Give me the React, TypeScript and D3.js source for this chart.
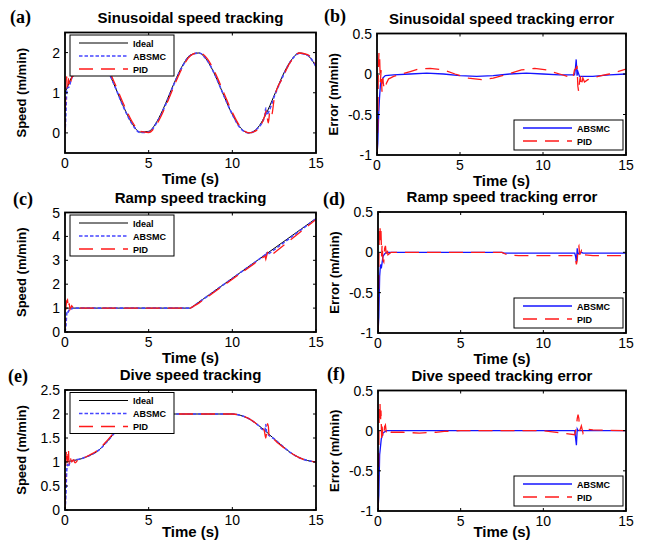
import * as d3 from "d3";

type Pt = [number, number];

// time axis ticks shared by all panels
const timeTicks = [0, 5, 10, 15];
const errorTicks = [-1, -0.5, 0, 0.5];

// (a) sinusoidal speed tracking
const sinIdeal: Pt[] = [
  [0, 1.0], [0.5, 1.48], [1, 1.84], [1.5, 2.0], [2, 1.91], [2.5, 1.6], [3, 1.14], [3.5, 0.65],
  [4, 0.24], [4.5, 0.02], [5, 0.04], [5.5, 0.29], [6, 0.72], [6.5, 1.22], [7, 1.66], [7.5, 1.94],
  [8, 1.99], [8.5, 1.8], [9, 1.41], [9.5, 0.92], [10, 0.46], [10.5, 0.12], [11, 0.0], [11.5, 0.12],
  [12, 0.46], [12.5, 0.93], [13, 1.42], [13.5, 1.8], [14, 1.99], [14.5, 1.93], [15, 1.65],
];
const sinAbsmc: Pt[] = [
  [0, 0], [0.05, 0.45], [0.1, 1.0], [0.15, 1.12], [0.25, 1.15], [0.35, 1.3], [0.5, 1.46], [1, 1.83],
  [1.5, 2.0], [2, 1.91], [2.5, 1.6], [3, 1.14], [3.5, 0.64], [4, 0.23], [4.5, 0.01], [5, 0.02],
  [5.5, 0.27], [6, 0.69], [6.5, 1.2], [7, 1.64], [7.5, 1.93], [8, 1.99], [8.5, 1.8], [9, 1.41],
  [9.5, 0.92], [10, 0.46], [10.5, 0.11], [11, 0.0], [11.5, 0.11], [11.95, 0.44], [12.0, 0.62],
  [12.05, 0.45], [12.2, 0.55], [12.5, 0.9], [13, 1.39], [13.5, 1.79], [14, 1.98], [14.5, 1.93], [15, 1.65],
];
const sinPid: Pt[] = [
  [0, 0], [0.05, 1.1], [0.1, 1.4], [0.15, 1.15], [0.2, 1.35], [0.3, 1.15], [0.4, 1.38], [0.5, 1.42],
  [1, 1.8], [1.5, 1.98], [2, 1.94], [2.5, 1.66], [3, 1.21], [3.5, 0.72], [4, 0.29], [4.5, 0.04],
  [5, 0.01], [5.5, 0.23], [6, 0.65], [6.5, 1.15], [7, 1.61], [7.5, 1.92], [8, 2.0], [8.5, 1.85],
  [9, 1.47], [9.5, 0.99], [10, 0.51], [10.5, 0.14], [11, 0.0], [11.5, 0.08], [11.9, 0.38],
  [12.0, 0.52], [12.05, 0.56], [12.1, 0.35], [12.15, 0.25], [12.25, 0.55], [12.35, 0.45],
  [12.5, 0.84], [13, 1.37], [13.5, 1.78], [14, 1.99], [14.5, 1.95], [15, 1.71],
];

// (b) sinusoidal tracking error
const sinErrAbsmc: Pt[] = [
  [0, -1], [0.05, -0.85], [0.1, -0.5], [0.15, -0.3], [0.2, -0.15], [0.25, -0.08], [0.3, -0.12],
  [0.35, -0.05], [0.5, -0.02], [1, -0.01], [2, 0.0], [3, 0.01], [4, 0.0], [5, -0.02], [6, -0.03],
  [7, -0.02], [8, 0.0], [9, 0.01], [10, 0.0], [11, -0.01], [11.9, -0.01], [11.95, 0.06], [12.0, 0.18],
  [12.05, -0.02], [12.1, 0.03], [12.2, -0.03], [13, -0.03], [14, -0.01], [15, 0.0],
];
const sinErrPid: Pt[] = [
  [0, -1], [0.05, -0.6], [0.08, 0.05], [0.12, 0.27], [0.16, 0.2], [0.2, -0.1], [0.25, 0.05],
  [0.3, -0.22], [0.35, -0.05], [0.4, -0.15], [0.45, -0.08], [0.55, -0.12], [0.7, -0.06], [0.8, -0.05],
  [1, -0.03], [1.5, 0.0], [2, 0.03], [2.5, 0.06], [3.2, 0.07], [4, 0.05], [4.7, 0.0], [5.5, -0.05],
  [6.3, -0.07], [7, -0.05], [7.9, 0.0], [8.7, 0.05], [9.5, 0.07], [10.2, 0.05], [11, 0.0],
  [11.8, -0.05], [11.9, 0.05], [12.0, 0.07], [12.05, 0.1], [12.1, -0.15], [12.15, -0.22], [12.2, -0.1],
  [12.25, -0.03], [12.3, -0.15], [12.4, -0.05], [12.5, -0.1], [12.7, -0.07], [13, -0.05],
  [13.5, -0.02], [14, 0.0], [14.5, 0.03], [15, 0.06],
];

// (c) ramp speed tracking
const rampIdeal: Pt[] = [[0, 1], [7.5, 1], [15, 4.75]];
const rampAbsmc: Pt[] = [
  [0, 0], [0.05, 0.2], [0.1, 0.75], [0.15, 0.9], [0.2, 0.85], [0.3, 1.0], [0.4, 0.97], [0.5, 1.0],
  [7.5, 1.0], [7.6, 1.04], [11.95, 3.22], [12.0, 3.14], [12.05, 3.3], [12.15, 3.26], [15, 4.74],
];
const rampPid: Pt[] = [
  [0, 0], [0.05, 1.0], [0.1, 1.3], [0.15, 1.35], [0.2, 1.0], [0.25, 1.2], [0.3, 0.95], [0.4, 1.1],
  [0.5, 1.0], [0.6, 1.05], [1, 1.0], [7.5, 1.0], [8, 1.21], [11.95, 3.18], [12.0, 3.05],
  [12.1, 3.32], [12.15, 3.28], [12.25, 3.17], [15, 4.71],
];

// (d) ramp tracking error
const rampErrAbsmc: Pt[] = [
  [0, -1], [0.05, -0.8], [0.1, -0.3], [0.15, -0.15], [0.2, -0.2], [0.3, -0.05], [0.4, -0.02],
  [0.5, 0], [7.5, 0], [7.6, -0.01], [11.9, -0.01], [11.95, -0.05], [12.0, -0.12], [12.05, 0.05],
  [12.1, -0.02], [12.3, 0.0], [12.4, -0.01], [15, -0.01],
];
const rampErrPid: Pt[] = [
  [0, -1], [0.05, -0.2], [0.08, 0.3], [0.12, 0.33], [0.15, 0.15], [0.18, 0.27], [0.22, -0.05],
  [0.25, 0.1], [0.3, -0.1], [0.35, -0.12], [0.4, 0.05], [0.45, 0.08], [0.5, -0.02], [0.55, 0.05],
  [0.6, -0.03], [0.8, 0.0], [7.5, 0], [7.8, -0.03], [8.5, -0.04], [11.9, -0.04], [12.0, -0.15],
  [12.05, -0.1], [12.1, 0.06], [12.15, 0.08], [12.2, -0.03], [12.3, 0.02], [12.4, -0.05],
  [12.5, -0.03], [13, -0.04], [15, -0.04],
];

// (e) dive speed tracking
const diveIdeal: Pt[] = [
  [0, 1], [0.5, 1.03], [1, 1.07], [1.5, 1.14], [2, 1.24], [2.5, 1.42], [3, 1.62], [3.5, 1.8],
  [4, 1.92], [4.5, 1.98], [5, 2], [10, 2], [10.5, 1.97], [11, 1.9], [11.5, 1.78], [12, 1.64],
  [12.5, 1.48], [13, 1.33], [13.5, 1.19], [14, 1.09], [14.5, 1.03], [15, 1.0],
];
const diveAbsmc: Pt[] = [
  [0, 0], [0.05, 0.3], [0.1, 0.8], [0.15, 0.95], [0.2, 0.9], [0.3, 1.0], [0.4, 1.02], [1, 1.07],
  [1.5, 1.14], [2, 1.24], [2.5, 1.42], [3, 1.62], [3.5, 1.8], [4, 1.92], [4.5, 1.98], [5, 2],
  [10, 2], [10.5, 1.97], [11, 1.9], [11.5, 1.78], [11.95, 1.65], [12.0, 1.78], [12.05, 1.62],
  [12.5, 1.48], [13, 1.33], [13.5, 1.19], [14, 1.09], [14.5, 1.03], [15, 1.0],
];
const divePid: Pt[] = [
  [0, 0], [0.05, 1.0], [0.1, 1.25], [0.15, 1.0], [0.2, 1.28], [0.25, 0.95], [0.3, 1.1], [0.4, 1.0],
  [0.5, 1.05], [0.6, 0.98], [0.8, 1.05], [1, 1.07], [1.5, 1.15], [2, 1.26], [2.5, 1.44], [3, 1.64],
  [3.5, 1.81], [4, 1.93], [4.5, 1.98], [5, 2], [10, 2], [10.5, 1.97], [11, 1.9], [11.5, 1.78],
  [11.9, 1.66], [12.0, 1.5], [12.05, 1.62], [12.1, 1.8], [12.15, 1.75], [12.2, 1.55], [12.3, 1.56],
  [12.5, 1.47], [13, 1.32], [13.5, 1.19], [14, 1.09], [14.5, 1.03], [15, 1.0],
];

// (f) dive tracking error
const diveErrAbsmc: Pt[] = [
  [0, -1], [0.05, -0.8], [0.1, -0.3], [0.15, -0.2], [0.2, -0.1], [0.3, -0.03], [0.5, 0],
  [11.9, 0], [12.0, -0.18], [12.05, 0.02], [12.1, 0], [15, 0],
];
const diveErrPid: Pt[] = [
  [0, -1], [0.05, -0.2], [0.08, 0.3], [0.12, 0.35], [0.15, 0.1], [0.18, 0.25], [0.22, -0.1],
  [0.25, 0.05], [0.3, -0.08], [0.35, -0.06], [0.4, 0.05], [0.45, 0.07], [0.5, -0.02], [0.6, 0.03],
  [0.8, -0.02], [1.5, -0.02], [2.5, -0.03], [3.5, -0.02], [4, -0.01], [5, 0.0], [10, 0.0],
  [11.9, -0.05], [12.0, 0.05], [12.05, 0.15], [12.1, 0.2], [12.15, 0.15], [12.2, 0.0], [12.3, 0.06],
  [12.4, -0.03], [12.5, 0.02], [13, 0.01], [15, 0.0],
];

const SANS = "'Liberation Sans', Arial, sans-serif";
const SERIF = "'Liberation Serif', 'Times New Roman', serif";

const styles: Record<string, { stroke: string; dash?: string; width: number }> = {
  ideal: { stroke: "#000", width: 1 },
  absmcDash: { stroke: "#4646ff", dash: "3.5,2", width: 1.6 },
  absmc: { stroke: "#1414ff", width: 1.3 },
  pid: { stroke: "#ff1a1a", dash: "14,8", width: 1.3 },
};

type Series = { key: string; label: string; data: Pt[] };
type Panel = {
  id: string; letter: string; title: string; ylabel: string;
  yDomain: [number, number]; yTicks: number[];
  box: { x0: number; x1: number; y0: number; y1: number };
  letterPos: [number, number]; xlabDy: number; smooth: boolean;
  series: Series[]; legend: "speed" | "error";
};

const panels: Panel[] = [
  {
    id: "a", letter: "(a)", title: "Sinusoidal speed tracking", ylabel: "Speed (m/min)",
    yDomain: [-0.5, 2.5], yTicks: [0, 1, 2], smooth: true, xlabDy: 31,
    box: { x0: 65, x1: 316, y0: 32.5, y1: 153 }, letterPos: [10, 23], legend: "speed",
    series: [
      { key: "ideal", label: "Ideal", data: sinIdeal },
      { key: "absmcDash", label: "ABSMC", data: sinAbsmc },
      { key: "pid", label: "PID", data: sinPid },
    ],
  },
  {
    id: "b", letter: "(b)", title: "Sinusoidal speed tracking error", ylabel: "Error (m/min)",
    yDomain: [-1, 0.5], yTicks: errorTicks, smooth: false, xlabDy: 31,
    box: { x0: 377, x1: 626, y0: 33.5, y1: 155 }, letterPos: [324, 22], legend: "error",
    series: [
      { key: "absmc", label: "ABSMC", data: sinErrAbsmc },
      { key: "pid", label: "PID", data: sinErrPid },
    ],
  },
  {
    id: "c", letter: "(c)", title: "Ramp speed tracking", ylabel: "Speed (m/min)",
    yDomain: [0, 5], yTicks: [0, 1, 2, 3, 4, 5], smooth: false, xlabDy: 31,
    box: { x0: 65, x1: 316, y0: 212.5, y1: 332 }, letterPos: [13, 205], legend: "speed",
    series: [
      { key: "ideal", label: "Ideal", data: rampIdeal },
      { key: "absmcDash", label: "ABSMC", data: rampAbsmc },
      { key: "pid", label: "PID", data: rampPid },
    ],
  },
  {
    id: "d", letter: "(d)", title: "Ramp speed tracking error", ylabel: "Error (m/min)",
    yDomain: [-1, 0.5], yTicks: errorTicks, smooth: false, xlabDy: 31,
    box: { x0: 378, x1: 626, y0: 212, y1: 333 }, letterPos: [323, 205], legend: "error",
    series: [
      { key: "absmc", label: "ABSMC", data: rampErrAbsmc },
      { key: "pid", label: "PID", data: rampErrPid },
    ],
  },
  {
    id: "e", letter: "(e)", title: "Dive speed tracking", ylabel: "Speed (m/min)",
    yDomain: [0, 2.5], yTicks: [0, 0.5, 1, 1.5, 2, 2.5], smooth: true, xlabDy: 26.5,
    box: { x0: 65, x1: 316, y0: 390, y1: 510 }, letterPos: [8, 382], legend: "speed",
    series: [
      { key: "ideal", label: "Ideal", data: diveIdeal },
      { key: "absmcDash", label: "ABSMC", data: diveAbsmc },
      { key: "pid", label: "PID", data: divePid },
    ],
  },
  {
    id: "f", letter: "(f)", title: "Dive speed tracking error", ylabel: "Error (m/min)",
    yDomain: [-1, 0.5], yTicks: errorTicks, smooth: false, xlabDy: 26,
    box: { x0: 378, x1: 626, y0: 390.5, y1: 511 }, letterPos: [327, 380], legend: "error",
    series: [
      { key: "absmc", label: "ABSMC", data: diveErrAbsmc },
      { key: "pid", label: "PID", data: diveErrPid },
    ],
  },
];

function PanelView({ p }: { p: Panel }) {
  const { x0, x1, y0, y1 } = p.box;
  const x = d3.scaleLinear().domain([0, 15]).range([x0, x1]);
  const y = d3.scaleLinear().domain(p.yDomain).range([y1, y0]);
  const line = d3
    .line<Pt>()
    .x((d) => x(d[0]))
    .y((d) => y(d[1]))
    .curve(p.smooth ? d3.curveMonotoneX : d3.curveLinear);
  const tl = 3;

  // legend box
  const lw = p.legend === "speed" ? 104 : 109;
  const lh = p.legend === "speed" ? 41 : 30;
  const lx = p.legend === "speed" ? x0 + 5 : x1 - 112;
  const ly = p.legend === "speed" ? y0 + 2.5 : y1 - 35;

  return (
    <g>
      <defs>
        <clipPath id={`clip-${p.id}`}>
          <rect x={x0} y={y0} width={x1 - x0} height={y1 - y0} />
        </clipPath>
      </defs>
      <rect x={x0} y={y0} width={x1 - x0} height={y1 - y0} fill="#fff" />
      <g clipPath={`url(#clip-${p.id})`}>
        {p.series.map((s) => {
          const st = styles[s.key];
          return (
            <path key={s.key} d={line(s.data) ?? ""} fill="none" stroke={st.stroke}
              strokeWidth={st.width} strokeDasharray={st.dash} />
          );
        })}
      </g>
      {/* inward ticks on all four sides */}
      {timeTicks.map((t) => (
        <g key={`xt${t}`} stroke="#000" strokeWidth={1}>
          <line x1={x(t)} x2={x(t)} y1={y1} y2={y1 - tl} />
          <line x1={x(t)} x2={x(t)} y1={y0} y2={y0 + tl} />
        </g>
      ))}
      {p.yTicks.map((t) => (
        <g key={`yt${t}`} stroke="#000" strokeWidth={1}>
          <line x1={x0} x2={x0 + tl} y1={y(t)} y2={y(t)} />
          <line x1={x1} x2={x1 - tl} y1={y(t)} y2={y(t)} />
        </g>
      ))}
      <rect x={x0} y={y0} width={x1 - x0} height={y1 - y0} fill="none" stroke="#000" strokeWidth={1.8} />
      {timeTicks.map((t) => (
        <text key={`xl${t}`} x={x(t)} y={y1 + 15} textAnchor="middle" fontFamily={SANS} fontSize={14}>
          {t}
        </text>
      ))}
      {p.yTicks.map((t) => (
        <text key={`yl${t}`} x={x0 - 5} y={y(t) + 5} textAnchor="end" fontFamily={SANS} fontSize={14}>
          {String(t)}
        </text>
      ))}
      <text x={(x0 + x1) / 2} y={y1 + p.xlabDy} textAnchor="middle" fontFamily={SANS} fontSize={15} fontWeight="bold">
        Time (s)
      </text>
      <text transform={`translate(${x0 - 39},${(y0 + y1) / 2}) rotate(-90)`} textAnchor="middle"
        fontFamily={SANS} fontSize={13} fontWeight="bold">
        {p.ylabel}
      </text>
      <text x={(x0 + x1) / 2} y={y0 - 10} textAnchor="middle" fontFamily={SANS} fontSize={15} fontWeight="bold">
        {p.title}
      </text>
      <text x={p.letterPos[0]} y={p.letterPos[1]} fontFamily={SERIF} fontSize={18} fontWeight="bold">
        {p.letter}
      </text>
      {/* legend */}
      <rect x={lx} y={ly} width={lw} height={lh} fill="#fff" stroke="#000" strokeWidth={1} />
      {p.series.map((s, i) => {
        const st = styles[s.key];
        const yy = ly + 8 + i * 13;
        return (
          <g key={`lg${s.key}`}>
            <line x1={lx + 9} x2={lx + 58} y1={yy} y2={yy} stroke={st.stroke} strokeWidth={st.width}
              strokeDasharray={st.dash} />
            <text x={lx + 63} y={yy + 3.5} fontFamily={SANS} fontSize={9} fontWeight="bold">
              {s.label}
            </text>
          </g>
        );
      })}
    </g>
  );
}

export default function App() {
  return (
    <svg width={647} height={540} style={{ position: "absolute", left: 0, top: 0, background: "#fff" }}>
      {panels.map((p) => (
        <PanelView key={p.id} p={p} />
      ))}
    </svg>
  );
}
